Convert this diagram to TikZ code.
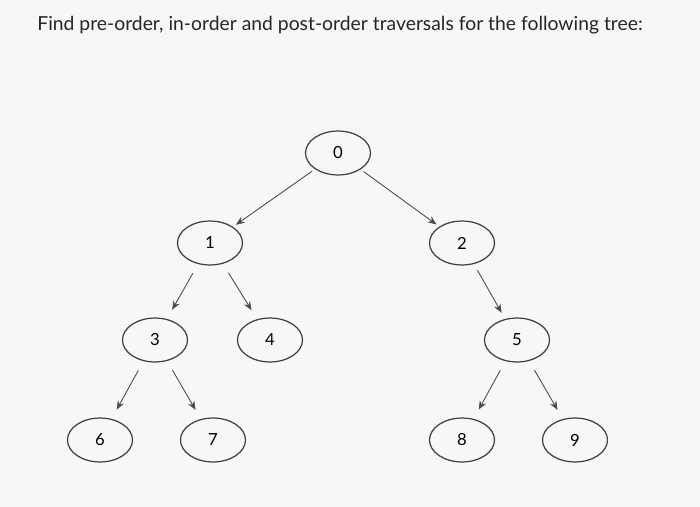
\documentclass[tikz,border=0pt]{standalone}
\usepackage{fontspec}
\setmainfont{Lato}
\usetikzlibrary{shapes.geometric,arrows.meta}
\begin{document}
\begin{tikzpicture}[x=0.02cm,y=-0.02cm,
  tn/.style={ellipse,draw=black!75,line width=0.7pt,minimum width=37pt,minimum height=25pt,inner sep=0pt,font=\fontsize{9.5}{10}\selectfont},
  edge/.style={draw=black!70,line width=0.5pt,-{Stealth[length=5pt,width=4pt]},shorten <=#1,shorten >=#1},
  edge/.default=6pt]
\fill[gray!6] (0,0) rectangle (700,507);
\useasboundingbox (0,0) rectangle (700,507);
\node[anchor=west,inner sep=0pt,font=\fontsize{11}{13}\selectfont,text=black!85] (title) at (37,25) {Find pre-order, in-order and post-order traversals for the following tree:};
\node[tn] (n0) at (338,153) {0};
\node[tn] (n1) at (210,243) {1};
\node[tn] (n2) at (462,243) {2};
\node[tn] (n3) at (155,340) {3};
\node[tn] (n4) at (270,340) {4};
\node[tn] (n5) at (517,340) {5};
\node[tn] (n6) at (100,440) {6};
\node[tn] (n7) at (213,440) {7};
\node[tn] (n8) at (462,440) {8};
\node[tn] (n9) at (575,440) {9};
\draw[edge=2pt] (n0) -- (n1);
\draw[edge=2pt] (n0) -- (n2);
\draw[edge] (n1) -- (n3);
\draw[edge] (n1) -- (n4);
\draw[edge=4pt] (n2) -- (n5);
\draw[edge] (n3) -- (n6);
\draw[edge] (n3) -- (n7);
\draw[edge] (n5) -- (n8);
\draw[edge] (n5) -- (n9);
\end{tikzpicture}
\end{document}
